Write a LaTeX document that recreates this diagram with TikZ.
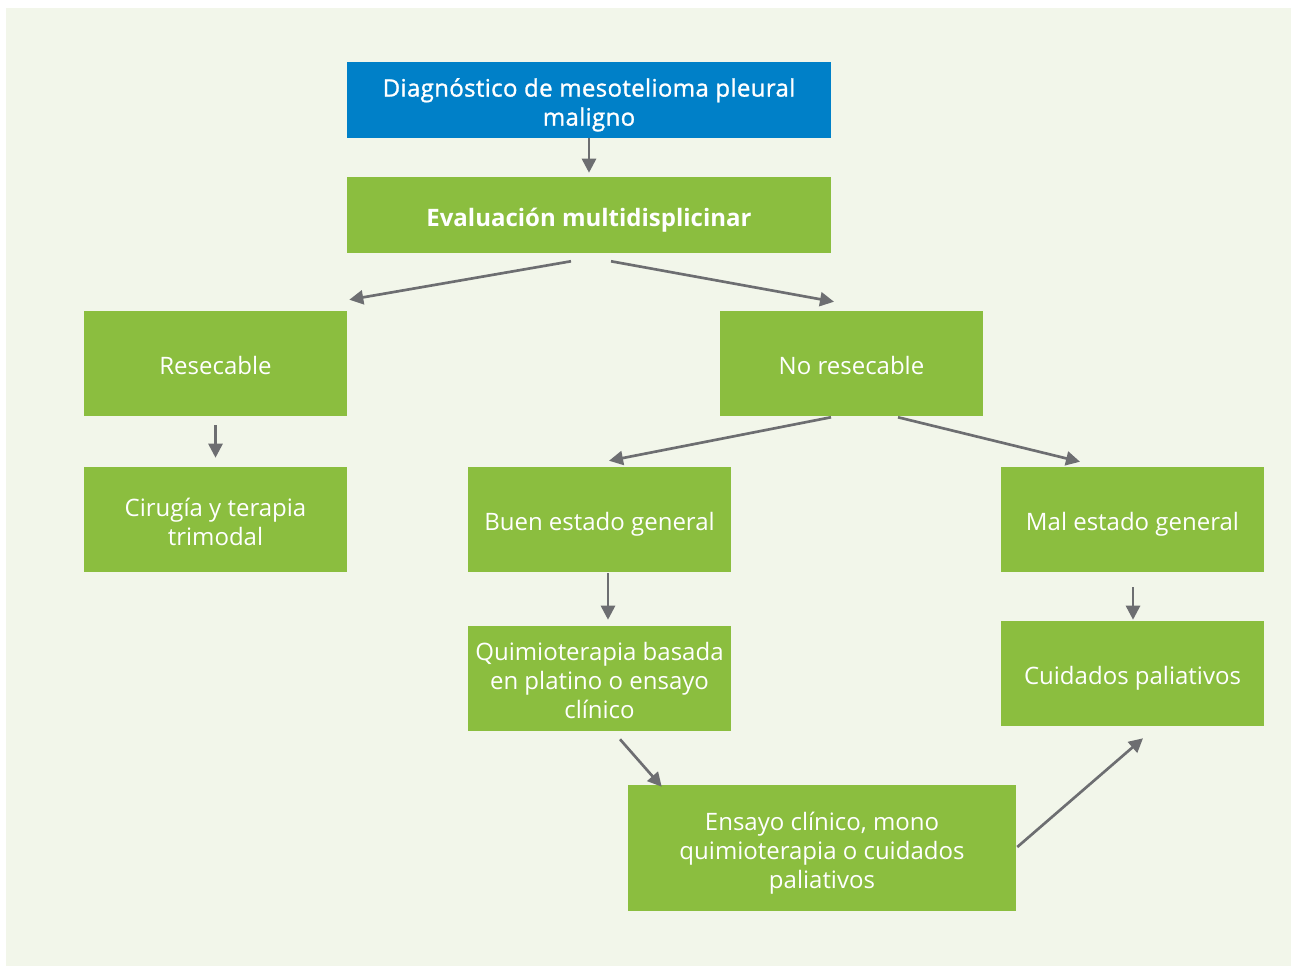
\documentclass[tikz,border=0pt]{standalone}
\usepackage{fontspec}
\setmainfont{Open Sans}
\newfontfamily\semibold[FakeBold=1.2,LetterSpace=1.5]{Open Sans}
\usepackage{tikz}
\usetikzlibrary{arrows.meta,calc,positioning}

\definecolor{diagblue}{RGB}{0,128,200}
\definecolor{boxgreen}{RGB}{139,190,63}
\definecolor{arrgray}{RGB}{109,110,113}
\definecolor{paper}{RGB}{242,246,234}

% struts so that every box centres its lines the same way
\newcommand{\topstrut}{\rule{0pt}{21pt}}
\newcommand{\botstrut}{\rule[-4.3pt]{0pt}{4.3pt}}

\tikzset{
  box/.style={fill=boxgreen, text=white, align=flush center, inner sep=0pt,
    minimum width=197.25pt, text width=197.25pt, minimum height=78.75pt,
    font=\fontsize{18}{21.8}\selectfont,
    execute at begin node=\topstrut, execute at end node=\botstrut},
  widebox/.style={box, minimum width=363pt, text width=363pt, minimum height=57pt},
  arr/.style={draw=arrgray, line width=2pt, -{Triangle[length=10.5pt,width=10.5pt]}}
}

\begin{document}
\begin{tikzpicture}[x=0.75pt,y=0.75pt,yscale=-1,xscale=1]
\useasboundingbox (0,0) rectangle (1291,967);
\fill[white] (0,0) rectangle (1291,967);
%Shape: Rectangle [background]
\fill[paper] (6,8) rectangle (1291,966);

%Shape: Rectangle [diagnosis]
\node (diag) at (589,100) [widebox, fill=diagblue, font=\semibold\fontsize{18}{21.8}\selectfont] {Diagnóstico de mesotelioma pleural\\maligno};
%Shape: Rectangle [evaluation]
\node (eval) at (589,215) [widebox] {\textbf{Evaluación multidisplicinar}};

%Shape: Rectangle
\node (rese) at (215.5,363.5) [box] {Resecable};
%Shape: Rectangle
\node (nores) at (851.5,363.5) [box] {No resecable};
%Shape: Rectangle
\node (ciru) at (215.5,519.5) [box] {Cirugía y terapia\\trimodal};
%Shape: Rectangle
\node (buen) at (599.5,519.5) [box] {Buen estado general};
%Shape: Rectangle
\node (mal) at (1132.5,519.5) [box] {Mal estado general};
%Shape: Rectangle
\node (quim) at (599.5,678.5) [box] {Quimioterapia basada\\en platino o ensayo\\clínico};
%Shape: Rectangle
\node (cuid) at (1132.5,673.5) [box] {Cuidados paliativos};
%Shape: Rectangle
\node (ens) at (822,848) [box, minimum width=291pt, text width=291pt, minimum height=94.5pt] {Ensayo clínico, mono\\quimioterapia o cuidados\\paliativos};

%Straight Lines
\draw[arr] (diag.south) -- ($(eval.north)+(0,-4)$);
%Straight Lines
\draw[arr] ($(eval.south)+(-18,8)$) -- ($(rese.north east)+(2,-11)$);
\draw[arr] ($(eval.south)+(22,8)$) -- ($(nores.north)+(-17.5,-9)$);
%Straight Lines
\draw[arr] ($(rese.south)+(0,9)$) -- ($(ciru.north)+(0,-9)$);
%Straight Lines
\draw[arr] ($(nores.south)+(-20.5,1)$) -- ($(buen.north)+(9.5,-6)$);
\draw[arr] ($(nores.south)+(46.5,1)$) -- ($(mal.north)+(-52.5,-5)$);
%Straight Lines
\draw[arr] ($(buen.south)+(8.5,1)$) -- ($(quim.north)+(8.5,-6)$);
\draw[arr] ($(mal.south)+(0.5,15)$) -- ($(cuid.north)+(0.5,-1)$);
%Straight Lines
\draw[arr] ($(quim.south)+(20.5,8)$) -- ($(ens.north west)+(34,2)$);
\draw[arr] ($(ens.east)+(1,-1)$) -- ($(cuid.south)+(10.5,12)$);

\end{tikzpicture}
\end{document}
